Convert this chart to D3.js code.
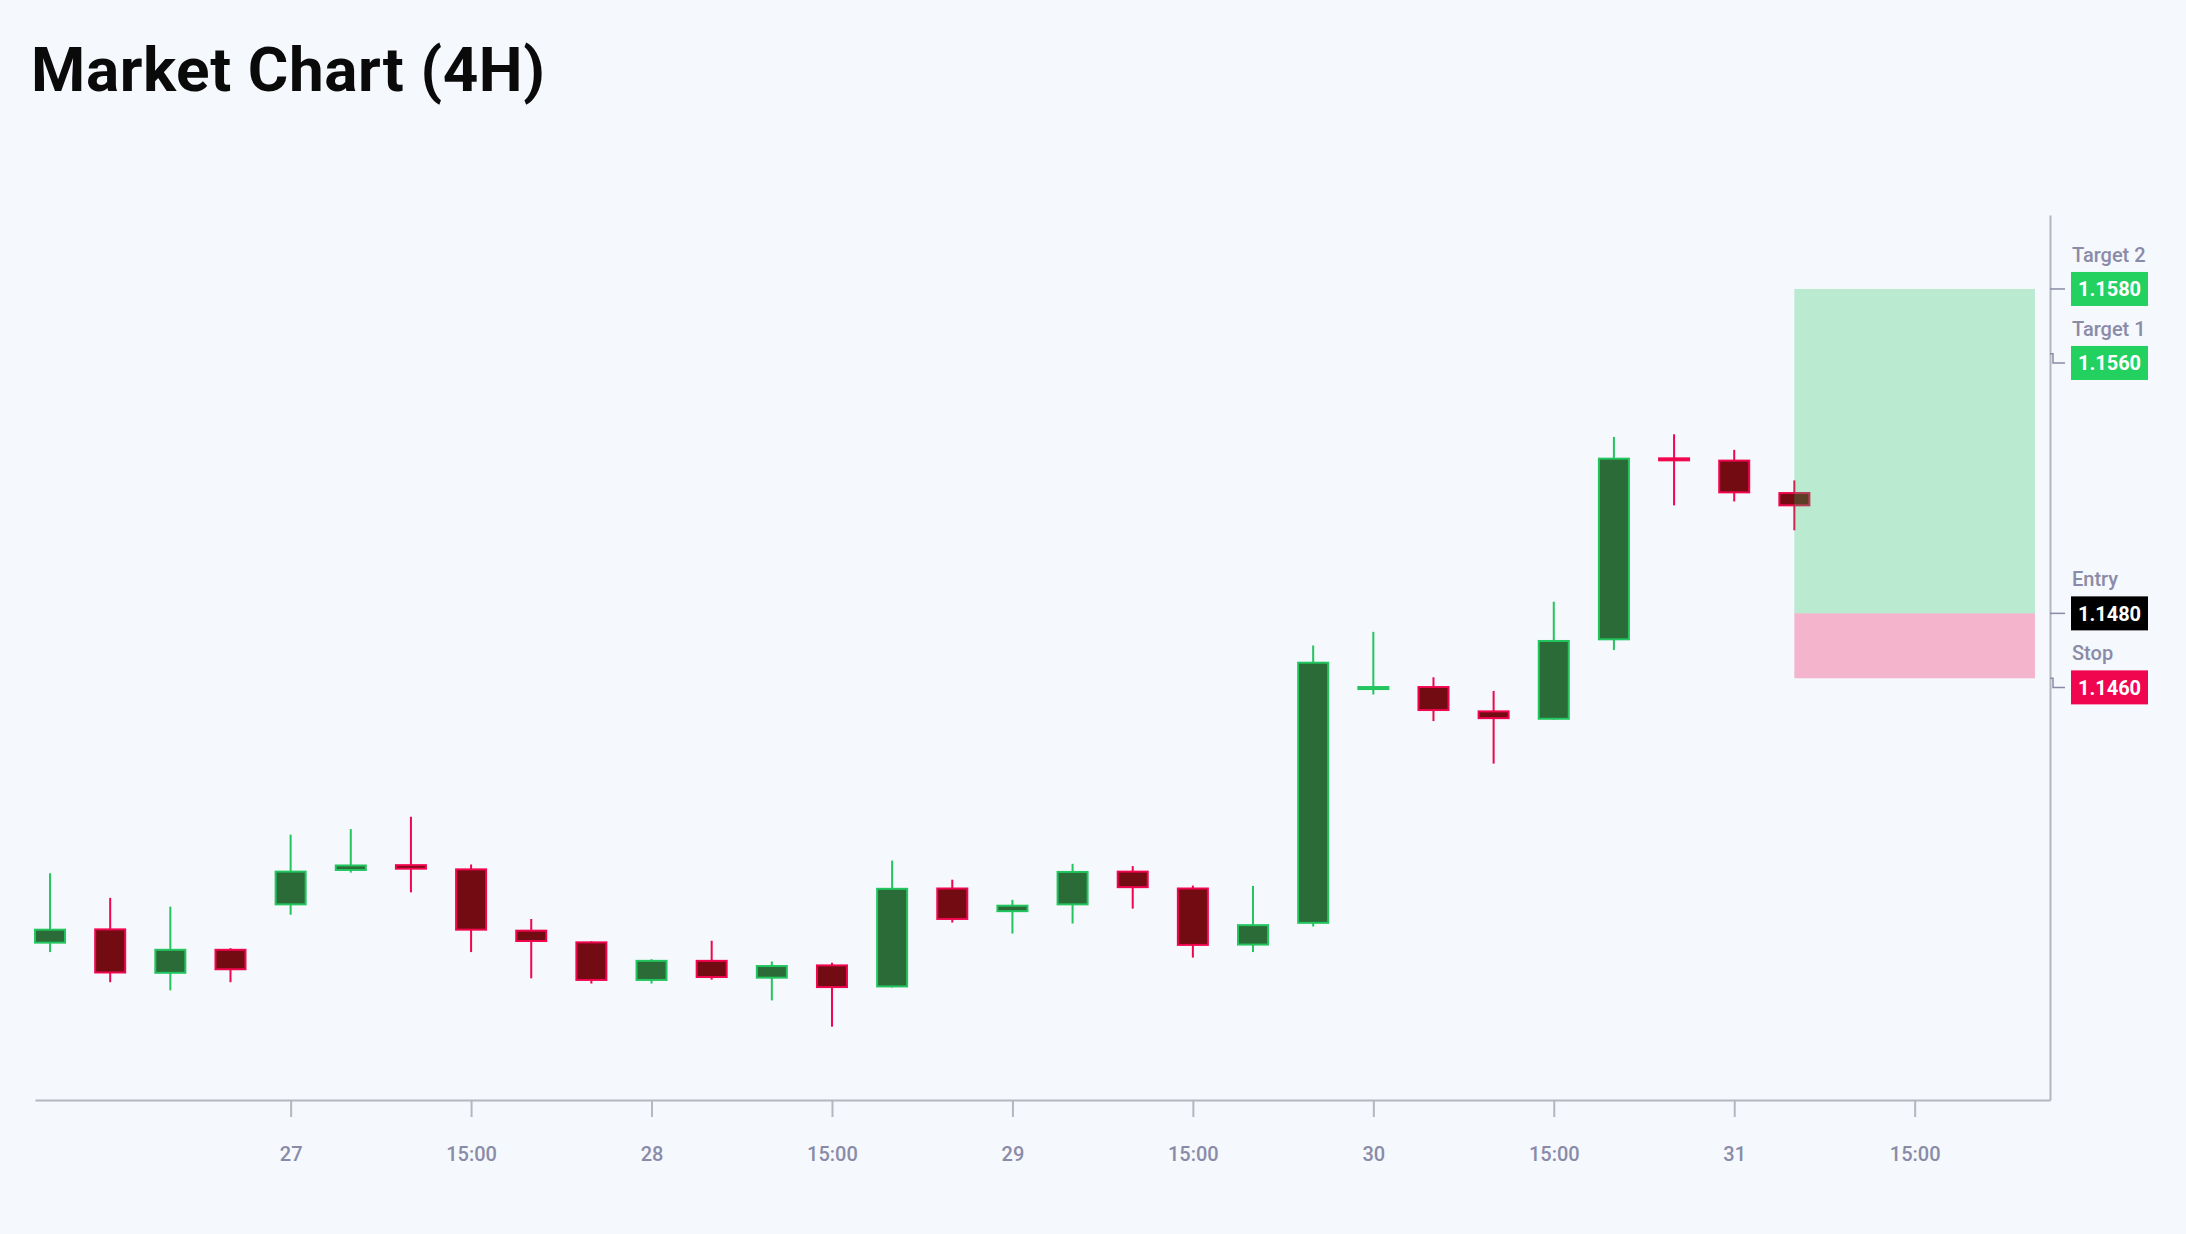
<!DOCTYPE html>
<html>
<head>
<meta charset="utf-8">
<script src="https://cdn.jsdelivr.net/npm/d3@7"></script>
<style>
  html, body { margin: 0; padding: 0; background: #f5f8fc; }
  svg { display: block; font-family: Roboto, "Noto Sans", sans-serif; }
</style>
</head>
<body>
<svg id="chart" width="2186" height="1234"></svg>
<script>
// 4H candles, one per bar index
var opens  = [1.13782, 1.13829, 1.13689, 1.13766, 1.13900, 1.14006, 1.14027, 1.14014, 1.13825, 1.13789,
              1.13667, 1.13732, 1.13674, 1.13718, 1.13647, 1.13955, 1.13879, 1.13900, 1.14007, 1.13955,
              1.13776, 1.13843, 1.14565, 1.14576, 1.14501, 1.14472, 1.14717, 1.15281, 1.15274, 1.15174];
var highs  = [1.13999, 1.13923, 1.13896, 1.13768, 1.14118, 1.14135, 1.14173, 1.14026, 1.13858, 1.13789,
              1.13734, 1.13791, 1.13727, 1.13723, 1.14038, 1.13979, 1.13917, 1.14028, 1.14021, 1.13961,
              1.13960, 1.14701, 1.14743, 1.14603, 1.14561, 1.14836, 1.15344, 1.15352, 1.15304, 1.15210];
var lows   = [1.13756, 1.13663, 1.13638, 1.13663, 1.13871, 1.14001, 1.13940, 1.13756, 1.13675, 1.13659,
              1.13659, 1.13671, 1.13607, 1.13526, 1.13647, 1.13847, 1.13813, 1.13844, 1.13890, 1.13739,
              1.13756, 1.13835, 1.14550, 1.14468, 1.14337, 1.14472, 1.14687, 1.15133, 1.15145, 1.15056];
var closes = [1.13828, 1.13690, 1.13766, 1.13700, 1.14007, 1.14026, 1.14010, 1.13822, 1.13787, 1.13667,
              1.13732, 1.13676, 1.13716, 1.13645, 1.13954, 1.13855, 1.13902, 1.14006, 1.13953, 1.13775,
              1.13842, 1.14651, 1.14576, 1.14499, 1.14474, 1.14718, 1.15280, 1.15271, 1.15170, 1.15130];

var tickIndex  = [4, 7, 10, 13, 16, 19, 22, 25, 28, 31];
var tickLabels = ["27", "15:00", "28", "15:00", "29", "15:00", "30", "15:00", "31", "15:00"];

var levelNames  = ["Target 2", "Target 1", "Entry", "Stop"];
var levelPrices = [1.1580, 1.1560, 1.1480, 1.1460];
var levelKinds  = ["target", "target", "entry", "stop"];

var zoneStart = 29, zoneEnd = 33;

var svg = d3.select("#chart");
var W = 2186, H = 1234;
var up = "#22c55e", upFill = "#2a6b38", down = "#f0064f", downFill = "#730b12";
var axisColor = "#b4b7be", textGray = "#8a8ba8";

svg.append("rect").attr("width", W).attr("height", H).attr("fill", "#f5f8fc");

svg.append("text")
  .attr("x", 31).attr("y", 91)
  .attr("font-size", 62).attr("font-weight", 700).attr("fill", "#0a0a0a")
  .attr("letter-spacing", 0.6)
  .text("Market Chart (4H)");

var x = d3.scaleLinear().domain([-0.25, 33.25]).range([35, 2050]);
var y = d3.scaleLinear().domain([1.1330, 1.16028]).range([1100, 215]);

var candles = d3.range(opens.length).map(function(i) {
  return {i: i, o: opens[i], h: highs[i], l: lows[i], c: closes[i]};
});

var g = svg.append("g");
var bw = 30;

var c = g.selectAll("g.candle").data(candles).enter().append("g").attr("class", "candle");

c.append("line")
  .attr("x1", function(d) { return x(d.i); })
  .attr("x2", function(d) { return x(d.i); })
  .attr("y1", function(d) { return y(d.h); })
  .attr("y2", function(d) { return y(d.l); })
  .attr("stroke", function(d) { return d.c >= d.o ? up : down; })
  .attr("stroke-width", 2);

c.append("rect")
  .attr("x", function(d) { return x(d.i) - bw / 2; })
  .attr("y", function(d) { return y(Math.max(d.o, d.c)) + 1; })
  .attr("width", bw)
  .attr("height", function(d) { return Math.max(2, Math.abs(y(d.o) - y(d.c)) - 2); })
  .attr("fill", function(d) { return d.c >= d.o ? upFill : downFill; })
  .attr("stroke", function(d) { return d.c >= d.o ? up : down; })
  .attr("stroke-width", 2);

// trade zones (drawn over candles, translucent)
svg.append("rect")
  .attr("x", x(zoneStart)).attr("width", x(zoneEnd) - x(zoneStart))
  .attr("y", y(levelPrices[0])).attr("height", y(levelPrices[2]) - y(levelPrices[0]))
  .attr("fill", "#22c55e").attr("fill-opacity", 0.28);
svg.append("rect")
  .attr("x", x(zoneStart)).attr("width", x(zoneEnd) - x(zoneStart))
  .attr("y", y(levelPrices[2])).attr("height", y(levelPrices[3]) - y(levelPrices[2]))
  .attr("fill", "#f0064f").attr("fill-opacity", 0.28);

// axes
var xAxis = svg.append("g")
  .attr("transform", "translate(0,1100)")
  .call(d3.axisBottom(x).tickValues(tickIndex)
    .tickFormat(function(d, i) { return tickLabels[i]; })
    .tickSize(17).tickSizeOuter(0).tickPadding(30));
xAxis.select(".domain").attr("stroke", axisColor).attr("stroke-width", 2);
xAxis.selectAll(".tick line").attr("stroke", axisColor).attr("stroke-width", 2);
xAxis.selectAll(".tick text")
  .attr("fill", textGray).attr("font-size", 20).attr("font-weight", 500)
  .attr("font-family", "Roboto, sans-serif");

var yAxis = svg.append("g")
  .attr("transform", "translate(2050,0)")
  .call(d3.axisRight(y).tickValues([]).tickSizeOuter(0));
yAxis.select(".domain").attr("stroke", axisColor).attr("stroke-width", 2);

// price labels, pushed apart so they don't overlap
var gap = 74, prev = -Infinity;
var labels = levelPrices.map(function(p, i) {
  var py = y(p);
  var ly = Math.max(py, prev + gap);
  prev = ly;
  return {name: levelNames[i], price: p, kind: levelKinds[i], py: py, ly: ly};
});

var boxColor = {target: "#23d160", entry: "#000000", stop: "#f0064f"};

var lg = svg.selectAll("g.level").data(labels).enter().append("g").attr("class", "level");

lg.append("path")
  .attr("d", function(d) {
    if (Math.abs(d.ly - d.py) < 0.5) return "M2050," + d.py + "H2065";
    return "M2050," + d.py + "H2053V" + d.ly + "H2065";
  })
  .attr("fill", "none").attr("stroke", "#8a8ba8").attr("stroke-width", 1.5);

lg.append("rect")
  .attr("x", 2071).attr("width", 77)
  .attr("y", function(d) { return d.ly - 17; }).attr("height", 34)
  .attr("fill", function(d) { return boxColor[d.kind]; });

lg.append("text")
  .attr("x", 2109.5).attr("y", function(d) { return d.ly + 7.5; })
  .attr("text-anchor", "middle").attr("font-size", 20).attr("font-weight", 700)
  .attr("fill", "#ffffff")
  .text(function(d) { return d.price.toFixed(4); });

lg.append("text")
  .attr("x", 2072).attr("y", function(d) { return d.ly - 27; })
  .attr("font-size", 20).attr("font-weight", 500).attr("fill", textGray)
  .text(function(d) { return d.name; });
</script>
</body>
</html>
